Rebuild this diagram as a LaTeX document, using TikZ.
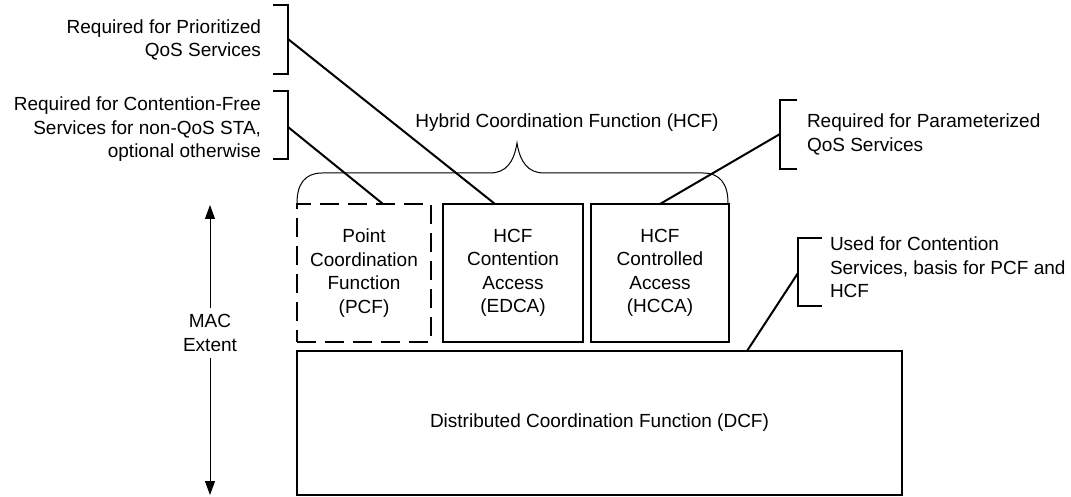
\documentclass[tikz,border=0pt]{standalone}
\usepackage{fontspec}
\setmainfont{Liberation Sans}
\usetikzlibrary{arrows.meta}

\begin{document}
\begin{tikzpicture}[x=1pt,y=-1pt,
  every node/.style={font=\fontsize{19}{23.5}\selectfont, inner sep=0pt, outer sep=0pt},
  fnbox/.style={draw, line width=2pt, align=center},
  bracketline/.style={line width=2pt, line join=miter},
  leader/.style={line width=2pt},
  bracelike/.style={line width=1pt},
  extent/.style={line width=1pt, -{Triangle[length=14pt,width=10pt]}}]
\useasboundingbox (0,0) rectangle (1071,497);

% function blocks
\node[fnbox, dash pattern=on 19pt off 9pt, minimum width=134pt, minimum height=138pt]
  (pcf) at (364,273) {Point\\Coordination\\Function\\(PCF)};
\node[fnbox, minimum width=140pt, minimum height=138pt]
  (edca) at (513,273) {HCF\\Contention\\Access\\(EDCA)};
\node[fnbox, minimum width=138pt, minimum height=138pt]
  (hcca) at (660,273) {HCF\\Controlled\\Access\\(HCCA)};
\node[fnbox, minimum width=605pt, minimum height=144pt]
  (dcf) at (599.5,423) {Distributed Coordination Function (DCF)};

% brace over the hybrid coordination function
\draw[bracelike] (297,203) .. controls (297,184) and (305,173) .. (322,173)
  -- (490,173) .. controls (506,173) and (514,162) .. (517,143)
  .. controls (520,162) and (528,173) .. (544,173)
  -- (703,173) .. controls (720,173) and (728,184) .. (728,203);
\node (hcf) at (567,123) {Hybrid Coordination Function (HCF)};

% annotations with brackets
\node[anchor=east, align=right] (t1) at (261,40) {Required for Prioritized\\QoS Services};
\draw[bracketline] (273,5) -- (288,5) -- (288,74) -- (273,74);
\coordinate (b1) at (288,39);

\node[anchor=east, align=right] (t2) at (261,129.5) {Required for Contention-Free\\Services for non-QoS STA,\\optional otherwise};
\draw[bracketline] (273,91) -- (288,91) -- (288,159) -- (273,159);
\coordinate (b2) at (288,127);

\node[anchor=west, align=left] (t3) at (807,134.5) {Required for Parameterized\\QoS Services};
\draw[bracketline] (797,100) -- (780,100) -- (780,169) -- (797,169);
\coordinate (b3) at (780,134);

\node[anchor=west, align=left] (t4) at (830,267.5) {Used for Contention\\Services, basis for PCF and\\HCF};
\draw[bracketline] (822,238) -- (798,238) -- (798,306) -- (822,306);
\coordinate (b4) at (798,273);

% leaders from brackets to blocks
\draw[leader] (b1) -- ([xshift=-18pt]edca.north);
\draw[leader] (b2) -- ([xshift=19pt]pcf.north);
\draw[leader] (b3) -- (hcca.north);
\draw[leader] (b4) -- ([xshift=147.5pt]dcf.north);

% MAC extent
\node[align=center, inner sep=7pt] (mac) at (210,333) {MAC\\Extent};
\coordinate (mactop) at (210,205);
\coordinate (macbot) at (210,495);
\draw[extent] (mac.north) -- (mactop);
\draw[extent] (mac.south) -- (macbot);
\end{tikzpicture}
\end{document}
